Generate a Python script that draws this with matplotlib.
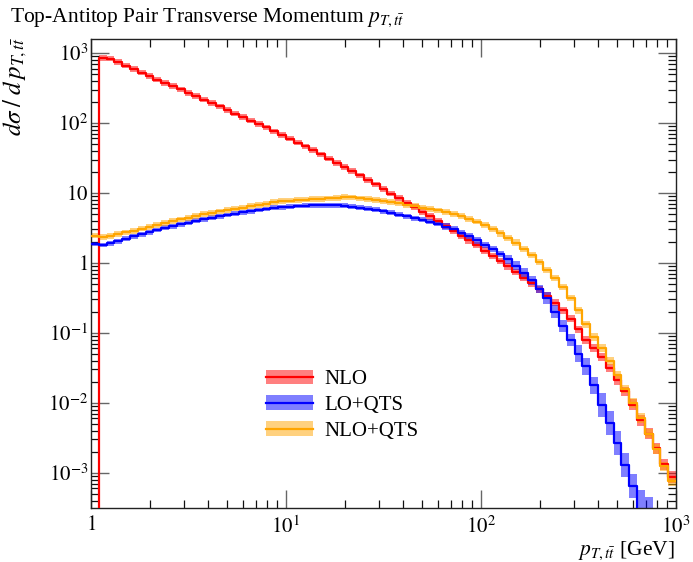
import numpy as np
import matplotlib
matplotlib.use("Agg")
import matplotlib.pyplot as plt
from matplotlib.patches import Patch
from matplotlib.lines import Line2D
from matplotlib.ticker import FixedLocator, FixedFormatter, LogLocator, NullFormatter

plt.rcParams["font.family"] = "serif"
plt.rcParams["font.serif"] = ["Liberation Serif", "DejaVu Serif"]
plt.rcParams["mathtext.fontset"] = "stix"

# 25 logarithmic bins per decade between 1 and 1000 GeV
n_bins = 75
edges = np.logspace(0, 3, n_bins + 1)

# dsigma/dpT per bin
nlo = [0, 851, 832, 741, 661, 589, 525, 468, 417, 376, 339, 302, 269, 243, 216,
       193, 172, 153, 136, 122, 108, 96.6, 86.1, 75.9, 67.6, 59.6, 52.5, 46.2, 40.7,
       35.5, 30.9, 26.9, 23.4, 20.4, 17.8, 15.3, 13.2, 11.4, 9.77, 8.41, 7.24, 6.24,
       5.37, 4.62, 3.98, 3.39, 2.88, 2.45, 2.09, 1.78, 1.50, 1.26, 1.06, 0.891, 0.741,
       0.617, 0.513, 0.417, 0.339, 0.269, 0.209, 0.158, 0.112, 0.0794, 0.0603, 0.0447,
       0.0316, 0.0209, 0.0145, 0.00933, 0.00562, 0.00363, 0.00224, 0.00132, 0.000871]

lo_qts = [1.86, 1.80, 1.91, 2.04, 2.21, 2.40, 2.57, 2.75, 2.95, 3.16, 3.35, 3.55, 3.76,
          3.98, 4.22, 4.42, 4.62, 4.84, 5.07, 5.25, 5.50, 5.69, 5.89, 6.10, 6.24, 6.38,
          6.49, 6.58, 6.64, 6.68, 6.70, 6.64, 6.53, 6.38, 6.17, 5.96, 5.75, 5.50, 5.19,
          4.90, 4.62, 4.37, 4.12, 3.85, 3.59, 3.31, 3.02, 2.69, 2.40, 2.09, 1.82, 1.58,
          1.35, 1.12, 0.912, 0.724, 0.562, 0.427, 0.316, 0.200, 0.126, 0.0794, 0.0501,
          0.0331, 0.0178, 0.00933, 0.00513, 0.00269, 0.00129, 0.000646, 0.000282,
          0.000224, 0.0001, 0.00005, 0.000025]

nlo_qts = [2.45, 2.34, 2.43, 2.57, 2.72, 2.88, 3.09, 3.27, 3.51, 3.72, 3.94, 4.17, 4.42,
           4.68, 4.95, 5.19, 5.43, 5.69, 5.96, 6.17, 6.46, 6.68, 6.92, 7.41, 7.59, 7.76,
           7.94, 8.04, 8.13, 8.22, 8.32, 8.51, 8.81, 8.61, 8.32, 8.13, 7.94, 7.67, 7.41,
           7.08, 6.76, 6.46, 6.17, 5.89, 5.62, 5.31, 5.01, 4.68, 4.27, 3.89, 3.47, 3.02,
           2.63, 2.29, 1.95, 1.58, 1.29, 1.02, 0.794, 0.603, 0.447, 0.316, 0.209, 0.132,
           0.0871, 0.0603, 0.0398, 0.0251, 0.0158, 0.0100, 0.00603, 0.00363, 0.00219,
           0.00123, 0.000759]

# scale-variation band half widths, in decades
nlo_unc = [0.0] + [0.04] * 39 + [0.045] * 16 + [0.05] * 7 + [0.06] * 6 + [0.08] * 6
lo_qts_unc = [0.035] * 45 + [0.045] * 8 + [0.06] * 5 + [0.09] * 4 + [0.12] * 3 + [0.17] * 5 + [0.3] * 5
nlo_qts_unc = [0.04] * 50 + [0.045] * 12 + [0.055] * 7 + [0.07] * 6

labels = ["NLO", "LO+QTS", "NLO+QTS"]
line_colors = ["#ff0000", "#0000ff", "#ffa500"]

x_ticks = [1, 10, 100, 1000]
x_ticklabels = ["$1$", "$10^{1}$", "$10^{2}$", "$10^{3}$"]
y_ticks = [1e-3, 1e-2, 1e-1, 1, 10, 100, 1000]
y_ticklabels = ["$10^{-3}$", "$10^{-2}$", "$10^{-1}$", "$1$", "$10$", "$10^{2}$", "$10^{3}$"]

W, H = 693, 562
fig = plt.figure(figsize=(W / 100, H / 100), dpi=100)
ax = fig.add_axes([91 / W, 1 - 508 / H, 585 / W, 469 / H])
ax.set_xscale("log")
ax.set_yscale("log")

series = [(nlo, nlo_unc), (lo_qts, lo_qts_unc), (nlo_qts, nlo_qts_unc)]
for (vals, unc), col in zip(series, line_colors):
    v = np.asarray(vals, dtype=float)
    u = np.asarray(unc, dtype=float)
    first = 1 if v[0] == 0 else 0
    up = v * 10 ** u
    dn = v / 10 ** u
    ax.fill_between(edges[first:], np.append(dn[first:], dn[-1]), np.append(up[first:], up[-1]),
                    step="post", facecolor=col, alpha=0.5, linewidth=0, zorder=2)
for (vals, unc), col in zip(series, line_colors):
    v = np.asarray(vals, dtype=float)
    ax.step(edges, np.append(v, v[-1]), where="post", color=col, lw=1.6, zorder=3)

ax.set_xlim(1, 1000)
ax.set_ylim(10 ** -3.504, 10 ** 3.2)

ax.xaxis.set_major_locator(FixedLocator(x_ticks))
ax.xaxis.set_major_formatter(FixedFormatter(x_ticklabels))
ax.yaxis.set_major_locator(FixedLocator(y_ticks))
ax.yaxis.set_major_formatter(FixedFormatter(y_ticklabels))
ax.xaxis.set_minor_locator(LogLocator(base=10, subs=np.arange(2, 10), numticks=20))
ax.yaxis.set_minor_locator(LogLocator(base=10, subs=np.arange(2, 10), numticks=20))
ax.xaxis.set_minor_formatter(NullFormatter())
ax.yaxis.set_minor_formatter(NullFormatter())

ax.tick_params(which="both", direction="in", top=True, right=True)
ax.tick_params(which="major", length=13, width=1.0, color="#666666", labelsize=15)
ax.tick_params(which="minor", length=5.8, width=0.9, color="#111111")
ax.tick_params(axis="y", which="major", pad=2)
ax.tick_params(axis="x", which="major", pad=6)
for s in ax.spines.values():
    s.set_linewidth(1.0)
    s.set_color("#222222")

handles = [(Patch(facecolor=c, alpha=0.5, linewidth=0), Line2D([], [], color=c, lw=1.6))
           for c in line_colors]
ax.legend(handles, labels, loc="upper left", bbox_to_anchor=(0.267, 0.335), frameon=False,
          fontsize=15, handlelength=2.25, handletextpad=0.55, labelspacing=0.3)

fig.text(10 / W, 1 - 21.5 / H, r"Top-Antitop Pair Transverse Momentum $p_{T,t\bar{t}}$",
         ha="left", va="baseline", fontsize=15.5)
fig.text(15 / W, 1 - 37 / H, r"$d\sigma\;/\;d\,p_{T,t\bar{t}}$", rotation=90,
         ha="center", va="top", fontsize=18)
fig.text(675 / W, 1 - 555 / H, r"$p_{T,t\bar{t}}$ [GeV]", ha="right", va="baseline", fontsize=15.5)

fig.savefig("out.png", dpi=100)
